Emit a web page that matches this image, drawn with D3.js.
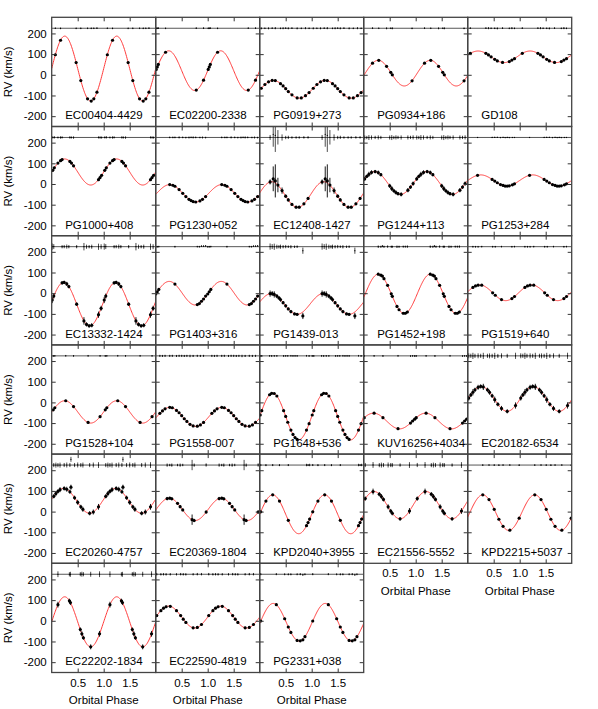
<!DOCTYPE html>
<html>
<head>
<meta charset="utf-8">
<script src="https://cdn.jsdelivr.net/npm/d3@7"></script>
<style>
  body { margin: 0; background: #fff; }
  text { font-family: "Liberation Sans", Arial, Helvetica, sans-serif; }
</style>
</head>
<body>
<svg width="598" height="709"></svg>
<script>
// star names, one panel each
const names = [
  'EC00404-4429', 'EC02200-2338', 'PG0919+273', 'PG0934+186', 'GD108',
  'PG1000+408', 'PG1230+052', 'EC12408-1427', 'PG1244+113', 'PG1253+284',
  'EC13332-1424', 'PG1403+316', 'PG1439-013', 'PG1452+198', 'PG1519+640',
  'PG1528+104', 'PG1558-007', 'PG1648+536', 'KUV16256+4034', 'EC20182-6534',
  'EC20260-4757', 'EC20369-1804', 'KPD2040+3955', 'EC21556-5552', 'KPD2215+5037',
  'EC22202-1834', 'EC22590-4819', 'PG2331+038'
];

// fitted sine: systemic velocity, semi-amplitude, phase of zero crossing
const gammas = [30, 20, -70, 8, 87, 58, -45, -51, 5, 17, -53, 0, -52, -3, 2,
  -46, -70, -68, -90, 17, 52, 11, -13, 31, -5, -5, 18, -7];
const amps = [157, 96, 43, 62, 28, 63, 42, 62, 55, 27, 105, 57, 50, 95, 38,
  54, 46, 113, 38, 60, 60, 54, 94, 66, 86, 121, 53, 91];
const phase0 = [0, 0, 0.01, 0.03, -0.05, 0, 0.02, -0.02, -0.04, 0, -0.02, 0.01, -0.03, 0.03, -0.02,
  0, 0.02, 0, -0.06, 0.01, -0.02, 0.01, 0, -0.05, 0.04, 0, 0, 0.01];

// measurements: [phase, RV km/s, error]
const obs = [
  [[0.07,97,4],[0.17,167,4],[0.47,59,4],[0.56,-28,4],[0.69,-116,4],[0.76,-127,4],[0.81,-116,4],[0.87,-84,4]],
  [[0.01,26,4],[0.03,38,4],[0.05,50,4],[0.19,109,4],[0.78,-74,4],[0.92,-26,4]],
  [[0.03,-65,5],[0.10,-47,4],[0.17,-34,5],[0.24,-27,4],[0.30,-28,5],[0.40,-43,4],[0.45,-54,5],[0.50,-67,4],[0.55,-81,5],[0.62,-97,4],[0.72,-112,5],[0.80,-112,4],[0.88,-101,5],[0.95,-86,4]],
  [[0.17,56,4],[0.29,70,4],[0.44,41,5],[0.52,12,4],[0.55,0,5],[0.93,-29,4]],
  [[0.05,104,4],[0.35,104,4],[0.40,96,5],[0.45,87,4],[0.52,75,4],[0.57,67,5],[0.67,60,4],[0.80,64,4],[0.85,71,5],[0.90,78,4]],
  [[0.02,66,5],[0.05,78,6],[0.12,101,5],[0.17,113,6],[0.20,118,5],[0.35,109,6],[0.38,101,5],[0.42,88,6],[0.90,21,5],[0.93,31,6],[0.96,42,5]],
  [[0.27,-3,4],[0.33,-6,4],[0.37,-11,4],[0.45,-27,5],[0.52,-45,4],[0.58,-61,4],[0.64,-74,5],[0.68,-80,4],[0.72,-85,5],[0.77,-87,4],[0.85,-82,4],[0.90,-74,5],[0.96,-61,4]],
  [[0.20,10,12],[0.26,25,60],[0.30,15,80],[0.35,-5,35],[0.43,-32,15],[0.50,-59,8],[0.55,-77,8],[0.62,-99,6],[0.70,-112,6],[0.76,-112,6],[0.85,-96,6],[0.93,-70,6]],
  [[0.02,25,10],[0.06,37,8],[0.10,47,12],[0.15,56,10],[0.22,60,8],[0.28,55,10],[0.33,45,8],[0.50,-9,10],[0.54,-22,12],[0.58,-33,8],[0.62,-41,10],[0.66,-47,8],[0.72,-50,10],[0.85,-30,10],[0.90,-15,8],[0.95,2,10]],
  [[0.19,42,3],[0.47,22,3],[0.52,14,3],[0.57,6,3],[0.63,-3,3],[0.68,-7,3],[0.72,-10,3],[0.76,-10,3],[0.80,-9,3],[0.86,-4,3],[0.90,1,3]],
  [[0.01,-33,15],[0.04,-14,12],[0.20,50,8],[0.24,52,8],[0.29,45,10],[0.33,32,8],[0.48,-53,8],[0.62,-134,18],[0.67,-151,10],[0.72,-158,8],[0.77,-155,10],[0.90,-104,15],[0.95,-73,12]],
  [[0.00,-4,4],[0.03,7,4],[0.06,18,4],[0.37,44,4],[0.80,-55,4],[0.84,-50,4],[0.88,-39,4],[0.92,-28,4],[0.96,-14,4]],
  [[0.20,-2,15],[0.24,-2,12],[0.28,-6,15],[0.33,-14,10],[0.37,-23,8],[0.40,-31,10],[0.45,-46,8],[0.50,-61,8],[0.55,-76,6],[0.60,-89,8],[0.67,-100,6],[0.72,-102,6],[0.83,-110,15]],
  [[0.28,92,6],[0.33,87,5],[0.36,83,5],[0.39,70,5],[0.46,38,6],[0.53,-3,5],[0.55,-15,5],[0.64,-64,6],[0.68,-80,5],[0.76,-97,5],[0.80,-97,5],[0.84,-91,6]],
  [[0.10,28,4],[0.15,35,4],[0.20,39,4],[0.27,39,4],[0.48,2,4],[0.53,-10,4],[0.65,-31,4],[0.85,-26,4],[0.90,-16,4]],
  [[0.03,-36,4],[0.06,-26,4],[0.27,8,4],[0.42,-20,4],[0.70,-97,4],[0.93,-69,4]],
  [[0.08,-53,5],[0.13,-41,5],[0.18,-31,5],[0.27,-24,5],[0.32,-26,5],[0.40,-39,5],[0.45,-50,5],[0.50,-64,5],[0.55,-79,5],[0.60,-92,5],[0.66,-106,6],[0.72,-114,5],[0.80,-115,5],[0.86,-109,5],[0.92,-97,5]],
  [[0.01,-61,4],[0.04,-40,4],[0.19,37,4],[0.23,44,4],[0.28,43,4],[0.33,31,4],[0.46,-40,4],[0.50,-68,4],[0.54,-96,4],[0.60,-134,4],[0.64,-155,4],[0.68,-170,4],[0.72,-179,4],[0.90,-134,4],[0.95,-103,4]],
  [[0.01,-74,4],[0.20,-52,4],[0.37,-74,4],[0.66,-127,4],[0.90,-100,4],[0.94,-90,4],[0.98,-81,4]],
  [[0.02,21,12],[0.06,36,10],[0.10,49,15],[0.14,61,10],[0.20,73,12],[0.25,77,10],[0.30,75,15],[0.38,61,10],[0.42,49,12],[0.47,32,10],[0.52,13,15],[0.58,-9,10],[0.65,-29,12],[0.76,-43,10],[0.92,-15,15]],
  [[0.04,74,10],[0.08,87,12],[0.12,98,10],[0.16,106,12],[0.24,112,10],[0.29,108,12],[0.35,96,10],[0.37,118,12],[0.44,67,10],[0.50,45,12],[0.56,23,10],[0.60,11,12],[0.73,-8,10],[0.80,-2,12],[0.90,23,14]],
  [[0.22,63,8],[0.27,65,6],[0.31,62,8],[0.42,40,6],[0.47,24,8],[0.52,8,6],[0.70,-39,25],[0.74,-43,8],[0.97,-2,8]],
  [[0.02,-1,5],[0.12,51,5],[0.25,81,5],[0.38,51,5],[0.55,-42,5],[0.90,-68,6],[0.93,-53,5],[0.96,-36,6]],
  [[0.03,63,10],[0.18,97,14],[0.30,84,10],[0.34,73,12],[0.38,59,10],[0.47,23,12],[0.52,3,10],[0.55,-8,10],[0.70,-35,8],[0.88,3,14]],
  [[0.29,81,4],[0.41,58,4],[0.51,11,4],[0.60,-37,4],[0.68,-71,4],[0.81,-90,4],[0.99,-32,4]],
  [[0.12,78,14],[0.34,97,10],[0.36,88,12],[0.55,-42,10],[0.58,-63,12],[0.61,-82,10],[0.75,-126,12],[0.92,-63,14]],
  [[0.02,25,6],[0.10,49,6],[0.15,61,6],[0.20,68,6],[0.28,70,6],[0.40,49,6],[0.48,25,6],[0.53,8,6],[0.58,-8,6],[0.72,-34,6],[0.80,-32,6],[0.88,-18,6]],
  [[0.02,-1,5],[0.32,78,5],[0.48,10,5],[0.55,-30,5],[0.60,-56,5],[0.72,-95,5],[0.78,-97,5],[0.83,-92,5],[0.87,-77,5]]
];

const yTicks = [-200, -100, 0, 100, 200];
const xTicks = [0.5, 1, 1.5];

const svg = d3.select('svg');
const padL = 51.7, padT = 17.3, pw = 104, ph = 109.2;
const ncol = 5;
const resBase = 225; // residuals are drawn around this level
const font = '"Liberation Sans", Arial, Helvetica, sans-serif';

const x = d3.scaleLinear().domain([0, 2]).range([0, pw]);
const y = d3.scaleLinear().domain([-250, 278]).range([ph, 0]);

const model = (i, p) => gammas[i] + amps[i] * Math.sin(2 * Math.PI * (p - phase0[i]));

svg.append('rect').attr('width', 598).attr('height', 709).attr('fill', '#fff');
svg.append('defs').append('clipPath').attr('id', 'clip')
  .append('rect').attr('width', pw).attr('height', ph);

const nrow = Math.ceil(names.length / ncol);
for (let r = 0; r < nrow; r++) {
  svg.append('text')
    .attr('transform', `translate(11.5,${padT + r * ph + ph / 2}) rotate(-90)`)
    .attr('text-anchor', 'middle')
    .attr('font-size', 11.5)
    .text('RV (km/s)');
}

names.forEach((name, i) => {
  const col = i % ncol, row = Math.floor(i / ncol);
  const hasBelow = i + ncol < names.length;
  const g = svg.append('g')
    .attr('transform', `translate(${padL + col * pw},${padT + row * ph})`);

  const inner = g.append('g').attr('clip-path', 'url(#clip)');

  // residual zero line
  inner.append('line')
    .attr('x1', 0).attr('x2', pw)
    .attr('y1', y(resBase)).attr('y2', y(resBase))
    .attr('stroke', '#444').attr('stroke-width', 0.9);

  // model curve
  const ph2 = d3.range(0, 2.0001, 0.01);
  inner.append('path')
    .datum(ph2)
    .attr('d', d3.line().x(p => x(p)).y(p => y(model(i, p))))
    .attr('fill', 'none')
    .attr('stroke', '#ff3b3b')
    .attr('stroke-width', 1);

  // two cycles of the same measurements
  const pts = obs[i].flatMap(d => [
    { p: d[0], v: d[1], e: d[2] },
    { p: d[0] + 1, v: d[1], e: d[2] }
  ]);
  pts.forEach(d => { d.res = d.v - model(i, d.p); });

  inner.selectAll('line.err').data(pts).enter().append('line')
    .attr('class', 'err')
    .attr('x1', d => x(d.p)).attr('x2', d => x(d.p))
    .attr('y1', d => y(d.v - d.e)).attr('y2', d => y(d.v + d.e))
    .attr('stroke', '#000').attr('stroke-width', 0.9);
  inner.selectAll('circle.pt').data(pts).enter().append('circle')
    .attr('class', 'pt')
    .attr('cx', d => x(d.p)).attr('cy', d => y(d.v))
    .attr('r', 1.6).attr('fill', '#000');

  inner.selectAll('line.rerr').data(pts).enter().append('line')
    .attr('class', 'rerr')
    .attr('x1', d => x(d.p)).attr('x2', d => x(d.p))
    .attr('y1', d => y(resBase + d.res - d.e)).attr('y2', d => y(resBase + d.res + d.e))
    .attr('stroke', '#000').attr('stroke-width', 0.7);
  inner.selectAll('circle.rpt').data(pts).enter().append('circle')
    .attr('class', 'rpt')
    .attr('cx', d => x(d.p)).attr('cy', d => y(resBase + d.res))
    .attr('r', 0.6).attr('fill', '#000');

  // axes, ticks pointing inwards
  const styleAxis = a => {
    a.select('.domain').remove();
    a.attr('font-size', 11.5).attr('font-family', font);
    a.selectAll('.tick line').attr('stroke', '#333');
    a.selectAll('.tick text').attr('fill', '#000');
  };
  g.append('g')
    .call(d3.axisLeft(y).tickValues(yTicks).tickSize(-4).tickPadding(5)
      .tickFormat(col === 0 ? d => String(d) : () => ''))
    .call(styleAxis);
  g.append('g').attr('transform', `translate(${pw},0)`)
    .call(d3.axisRight(y).tickValues(yTicks).tickSize(-4).tickFormat(() => ''))
    .call(styleAxis);
  g.append('g')
    .call(d3.axisTop(x).tickValues(xTicks).tickSize(-4).tickFormat(() => ''))
    .call(styleAxis);
  g.append('g').attr('transform', `translate(0,${ph})`)
    .call(d3.axisBottom(x).tickValues(xTicks).tickSize(-4).tickPadding(6)
      .tickFormat(hasBelow ? () => '' : d => d.toFixed(1)))
    .call(styleAxis);

  g.append('rect')
    .attr('width', pw).attr('height', ph)
    .attr('fill', 'none')
    .attr('stroke', '#444').attr('stroke-width', 1.3);

  g.append('text')
    .attr('x', 13.5).attr('y', ph - 7)
    .attr('font-size', 11.5)
    .text(name);

  if (!hasBelow) {
    g.append('text')
      .attr('x', pw / 2).attr('y', ph + 32)
      .attr('text-anchor', 'middle')
      .attr('font-size', 11.5)
      .text('Orbital Phase');
  }
});
</script>
</body>
</html>
